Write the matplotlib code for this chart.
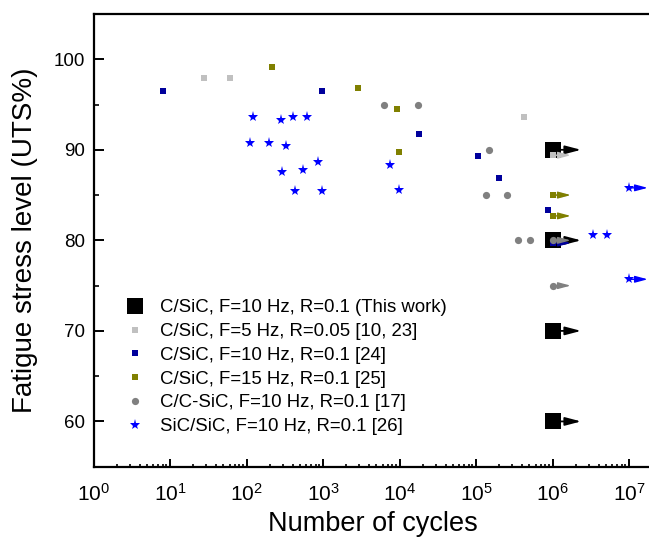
import numpy as np
import matplotlib
matplotlib.use("Agg")
import matplotlib.pyplot as plt

plt.rcParams['font.family'] = ['Liberation Sans', 'DejaVu Sans']

# this work (all run-outs at 1e6 cycles)
this_n = [1e6, 1e6, 1e6, 1e6]
this_s = [90, 80, 70, 60]
this_runout = [True, True, True, True]

# C/SiC, F=5 Hz, R=0.05 [10, 23]
csic5_n = [27.6, 61, 4.2e5, 1e6, 1e6]
csic5_s = [97.9, 97.9, 93.6, 89.4, 85.0]
csic5_runout = [False, False, False, True, True]

# C/SiC, F=10 Hz, R=0.1 [24]
csic10_n = [8.1, 960, 1.8e4, 1.05e5, 1.98e5, 8.7e5, 1e6]
csic10_s = [96.5, 96.5, 91.7, 89.3, 86.9, 83.4, 79.7]
csic10_runout = [False, False, False, False, False, False, True]

# C/SiC, F=15 Hz, R=0.1 [25]
csic15_n = [215, 2870, 9190, 9850, 1e6, 1e6]
csic15_s = [99.2, 96.8, 94.5, 89.8, 85.0, 82.7]
csic15_runout = [False, False, False, False, True, True]

# C/C-SiC, F=10 Hz, R=0.1 [17]
ccsic_n = [6270, 17500, 1.49e5, 1.35e5, 2.52e5, 3.51e5, 5.13e5, 1e6, 1e6]
ccsic_s = [95.0, 95.0, 90.0, 85.0, 85.0, 80.0, 80.0, 80.0, 75.0]
ccsic_runout = [False, False, False, False, False, False, False, True, True]

# SiC/SiC, F=10 Hz, R=0.1 [26]
sicsic_n = [122, 282, 401, 612, 112, 197, 331, 852, 291, 553, 427, 970,
            7500, 9770, 3.41e6, 5.2e6, 1e7, 1e7]
sicsic_s = [93.6, 93.3, 93.6, 93.6, 90.7, 90.7, 90.4, 88.7, 87.6, 87.8, 85.4, 85.4,
            88.3, 85.6, 80.6, 80.6, 85.8, 75.7]
sicsic_runout = [False] * 16 + [True, True]

labels = ["C/SiC, F=10 Hz, R=0.1 (This work)",
          "C/SiC, F=5 Hz, R=0.05 [10, 23]",
          "C/SiC, F=10 Hz, R=0.1 [24]",
          "C/SiC, F=15 Hz, R=0.1 [25]",
          "C/C-SiC, F=10 Hz, R=0.1 [17]",
          "SiC/SiC, F=10 Hz, R=0.1 [26]"]

W, H = 649, 540
x0, xb, xt = 93.5, 466.7, 14.0      # left spine, bottom spine, top spine (px)
aw, ah = 573.75, xb - xt

fig = plt.figure(figsize=(W / 100, H / 100), dpi=100)
# axes run past the right edge of the picture, like the original
ax = fig.add_axes([x0 / W, (H - xb) / H, aw / W, ah / H])


def add_series(n, s, runout, marker, color, ms, label, arrow_len, arrow_w, head):
    ax.plot(n, s, linestyle='none', marker=marker, color=color, markersize=ms,
            markeredgewidth=0, label=label, zorder=3)
    for x, y, r in zip(n, s, runout):
        if r:
            ax.annotate("", xy=(x * 10 ** arrow_len, y), xytext=(x, y),
                        arrowprops=dict(arrowstyle="-|>,head_length=%g,head_width=%g" % head,
                                        color=color, lw=arrow_w, shrinkA=0, shrinkB=0),
                        zorder=3)


add_series(this_n, this_s, this_runout, 's', 'black', 11.3, labels[0], 0.373, 1.3, (0.95, 0.25))
add_series(csic5_n, csic5_s, csic5_runout, 's', '#C0C0C0', 4.8, labels[1], 0.238, 1.0, (0.75, 0.2))
add_series(csic10_n, csic10_s, csic10_runout, 's', '#00009C', 4.8, labels[2], 0.238, 1.0, (0.75, 0.2))
add_series(csic15_n, csic15_s, csic15_runout, 's', '#808000', 4.8, labels[3], 0.238, 1.0, (0.75, 0.2))
add_series(ccsic_n, ccsic_s, ccsic_runout, 'o', '#808080', 5.2, labels[4], 0.238, 1.0, (0.75, 0.2))
add_series(sicsic_n, sicsic_s, sicsic_runout, '*', '#0000FF', 8.0, labels[5], 0.245, 1.0, (0.75, 0.2))

ax.set_xscale('log')
ax.set_xlim(1, 10 ** 7.5)
ax.set_ylim(55, 105)
ax.set_yticks([60, 70, 80, 90, 100])
ax.set_yticks([65, 75, 85, 95], minor=True)
ax.set_xticks([10 ** k for k in range(0, 8)])
ax.set_xticklabels([r"$\mathregular{10^{%d}}$" % k for k in range(0, 8)])

for sp in ax.spines.values():
    sp.set_linewidth(1.6)
ax.spines['right'].set_visible(False)

ax.tick_params(axis='both', which='major', direction='in', length=7, width=1.4,
               labelsize=13.5)
ax.tick_params(axis='both', which='minor', direction='in', length=3.5, width=1.2)
ax.tick_params(axis='x', which='major', length=5.5, pad=12, labelsize=15)
ax.tick_params(axis='x', which='minor', length=2.5)
ax.tick_params(axis='y', pad=6)

ax.set_xlabel("Number of cycles", fontsize=19.5)
ax.set_ylabel("Fatigue stress level (UTS%)", fontsize=20)
ax.xaxis.set_label_coords((373 - x0) / aw, -(511 - xb) / ah)
ax.yaxis.set_label_coords(-(x0 - 38) / aw, 0.5)

ax.legend(loc='upper left', bbox_to_anchor=((118.5 - x0) / aw, (xb - 292) / ah),
          frameon=False, fontsize=13.4, handlelength=1.0, handletextpad=0.85,
          labelspacing=0.36, borderaxespad=0, numpoints=1)

fig.savefig("out.png", dpi=100)
